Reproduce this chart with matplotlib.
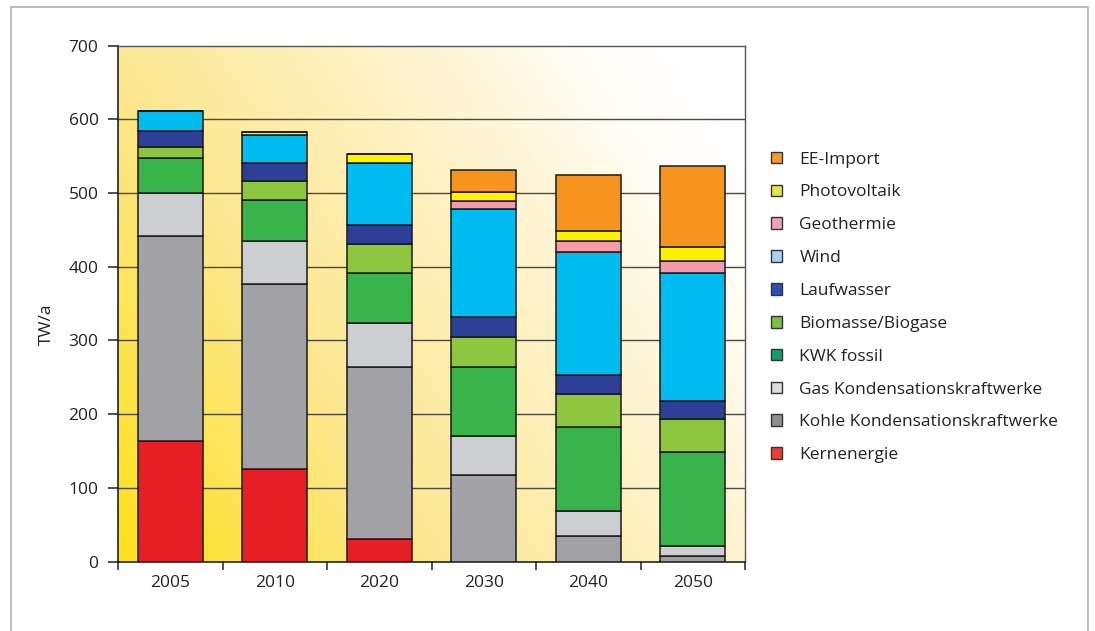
import numpy as np
import matplotlib
matplotlib.use('Agg')
from matplotlib import pyplot as plt
from matplotlib.colors import LinearSegmentedColormap
from matplotlib.patches import Rectangle
from matplotlib.ticker import MultipleLocator, FixedLocator

plt.rcParams['font.family'] = ['Open Sans', 'DejaVu Sans']

# Stromerzeugung nach Quelle, TW/a
years = ['2005', '2010', '2020', '2030', '2040', '2050']
kern = [163, 125, 30, 0, 0, 0]
kohle = [278, 251, 234, 117, 35, 7]
gas = [59, 59, 60, 53, 34, 14]
kwk = [47, 55, 67, 94, 114, 127]
bio = [15, 26, 40, 41, 44, 45]
lauf = [22, 25, 26, 27, 26, 25]
wind = [27, 38, 84, 146, 167, 174]
geo = [0, 0, 0, 11, 15, 16]
pv = [0, 3, 12, 12, 14, 18]
ee_import = [0, 0, 0, 30, 76, 110]

labels = ['Kernenergie', 'Kohle Kondensationskraftwerke', 'Gas Kondensationskraftwerke',
          'KWK fossil', 'Biomasse/Biogase', 'Laufwasser', 'Wind', 'Geothermie',
          'Photovoltaik', 'EE-Import']
series = [kern, kohle, gas, kwk, bio, lauf, wind, geo, pv, ee_import]
bar_colors = ['#E81E25', '#A2A2A6', '#CDCED2', '#39B44A', '#8DC63F', '#2E3F97',
              '#00BCF1', '#F49AAA', '#FFF200', '#F7941D']
# legend swatches use slightly different tones
legend_colors = ['#E8412F', '#8E8E90', '#DCDCDC', '#0E9F73', '#79C143', '#2B50B0',
                 '#A6D3F2', '#F0A0B8', '#E4E44A', '#F39A2A']

fig = plt.figure(figsize=(10.95, 6.31), dpi=100)
ax = fig.add_axes([118 / 1095, 1 - 561.5 / 631, (745 - 118) / 1095, (561.5 - 45.5) / 631])

# yellow-to-white background wash
gx, gy = np.meshgrid(np.linspace(0, 1, 300), np.linspace(0, 1, 200))
t = np.clip(0.85 * gx + 0.45 * gy, 0, 1.2) / 1.2
wash = LinearSegmentedColormap.from_list('wash', [(0, '#FFE118'), (0.35, '#FCE78E'),
                                                  (0.7, '#FFF4CF'), (0.9, '#FFFDF6'),
                                                  (1, '#FFFFFF')])
ax.imshow(t, cmap=wash, extent=[0, 1, 0, 1], transform=ax.transAxes, origin='lower',
          aspect='auto', zorder=0, vmin=0, vmax=1)

x = np.arange(len(years))
bottom = np.zeros(len(years))
for vals, col, lab in zip(series, bar_colors, labels):
    ax.bar(x, vals, 0.62, bottom=bottom, color=col, edgecolor='#1a1a1a', linewidth=1.1,
           zorder=3, label=lab)
    bottom += np.array(vals)

ax.set_xlim(-0.5, 5.5)
ax.set_ylim(0, 700)
ax.yaxis.set_major_locator(MultipleLocator(100))
for yv in range(100, 700, 100):
    ax.axhline(yv, color='#4a4a44', linewidth=1.0, zorder=1)

ax.set_xticks(x)
ax.set_xticklabels(years, fontsize=12.5, color='#222222')
ax.xaxis.set_minor_locator(FixedLocator(np.arange(-0.5, 6, 1)))
ax.tick_params(axis='x', which='major', length=0, pad=10)
ax.tick_params(axis='x', which='minor', length=6, width=1.1, color='#222222', direction='out')
ax.tick_params(axis='y', length=7, width=1.1, color='#222222', labelsize=12.5,
               labelcolor='#222222', pad=7)

for side in ['left', 'bottom']:
    ax.spines[side].set_color('#111111')
    ax.spines[side].set_linewidth(1.1)
for side in ['top', 'right']:
    ax.spines[side].set_color('#555555')
    ax.spines[side].set_linewidth(1.0)

ax.set_ylabel('TW/a', fontsize=12.5, color='#222222')
ax.yaxis.set_label_coords(-0.1, 0.46)

# legend, top entry first
handles = [Rectangle((0, 0), 1, 1, facecolor=c, edgecolor='#333333', linewidth=1.0)
           for c in legend_colors[::-1]]
fig.legend(handles, labels[::-1], loc='upper left', bbox_to_anchor=(755 / 1095, 1 - 136 / 631),
           frameon=False, fontsize=12.5, labelspacing=0.97, handlelength=0.65,
           handleheight=0.65, handletextpad=1.0, labelcolor='#222222')

# outer frame
fig.add_artist(Rectangle((10.5 / 1095, -0.05), 1077.5 / 1095, 1.05 - 7 / 631,
                         transform=fig.transFigure, fill=False, edgecolor='#b0b0b0',
                         linewidth=1.2))

fig.savefig('out.png', dpi=100)
